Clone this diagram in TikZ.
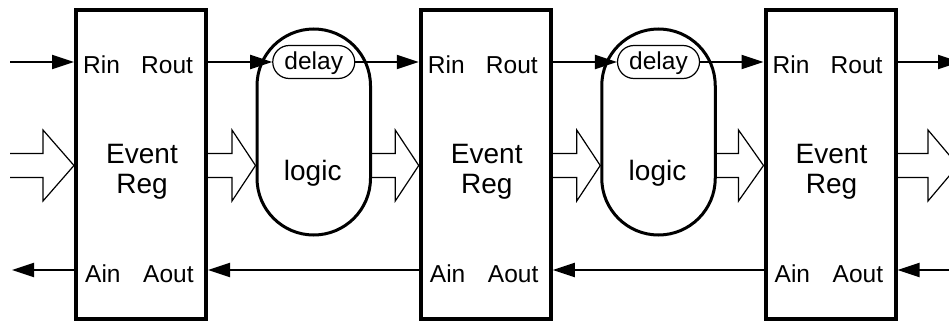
\documentclass[tikz,border=0pt]{standalone}
\usepackage{fontspec}
\setmainfont{Liberation Sans}
\usetikzlibrary{arrows.meta,calc}

\tikzset{
  reg/.style={draw, line width=4pt, minimum width=130pt, minimum height=308pt, inner sep=0pt},
  pill/.style={draw, line width=3pt, minimum width=113.5pt, minimum height=206pt,
    rounded corners=56.75pt, inner sep=0pt},
  delaybox/.style={draw, line width=1.2pt, fill=white, minimum width=82pt, minimum height=33pt,
    rounded corners=16.5pt, inner sep=0pt, text height=20pt, text depth=4pt,
    font=\fontsize{24.5}{29}\selectfont},
  port/.style={inner sep=0pt, font=\fontsize{24.5}{29}\selectfont},
  big/.style={inner sep=0pt, font=\fontsize{28}{30}\selectfont},
  sig/.style={line width=2pt, -{Triangle[length=22pt,width=14pt]}},
  fat/.style={line width=1.2pt, line join=miter},
}

% hollow bundle arrow: #1 start of the shaft, #2 tip, #3 head length
\newcommand\fatarrow[3]{%
  \draw[fat] let \p1=(#1), \p2=(#2) in
    (\x1,\y2+12pt) -- (\x2-#3,\y2+12pt) -- (\x2-#3,\y2+35.5pt) -- (\x2,\y2)
    -- (\x2-#3,\y2-35.5pt) -- (\x2-#3,\y2-12pt) -- (\x1,\y2-12pt);}

\begin{document}
\begin{tikzpicture}[x=1pt,y=-1pt]
\useasboundingbox (0,0) rectangle (949,321);
\clip (0,0) rectangle (949,321);

% event registers
\foreach \i/\cx in {1/141,2/485.75,3/830.5}{
  \node[reg] (reg\i) at (\cx,164.5) {};
  \node[port, anchor=base west] (rin\i)  at (\cx-58,74)  {Rin};
  \node[port, anchor=base west] (rout\i) at (\cx,74)     {Rout};
  \node[port, anchor=base west] (ain\i)  at (\cx-56,282) {Ain};
  \node[port, anchor=base west] (aout\i) at (\cx+2,282)  {Aout};
  \node[big, anchor=base] (ev\i) at (\cx+1,163) {Event};
  \node[big, anchor=base] (rg\i) at (\cx+1,193) {Reg};
}

% logic blocks with their delay elements
\foreach \i/\cx in {1/313.75,2/658.5}{
  \node[pill] (p\i) at (\cx,132) {};
  \node[delaybox] (d\i) at (\cx,62) {delay};
  \node[big, anchor=base] (lg\i) at (\cx-1,180) {logic};
}

% free ends at the picture border
\coordinate (reqin)   at (10,62);
\coordinate (reqout)  at (960,62);
\coordinate (ackin)   at (960,270);
\coordinate (ackout)  at (12,270);
\coordinate (datain)  at (10,165.5);
\coordinate (dataout) at (958,165.5);

% request chain
\draw[sig] (reqin) -- (reqin -| reg1.west);
\draw[sig] (reg1.east |- reqin) -- (d1.west);
\draw[sig] (d1.east) -- (reg2.west |- reqin);
\draw[sig] (reg2.east |- reqin) -- (d2.west);
\draw[sig] (d2.east) -- (reg3.west |- reqin);
\draw[sig] (reg3.east |- reqin) -- (reqout);

% acknowledge chain
\draw[sig] (ackin) -- (ackin -| reg3.east);
\draw[sig] (reg3.west |- ackin) -- (reg2.east |- ackin);
\draw[sig] (reg2.west |- ackin) -- (reg1.east |- ackin);
\draw[sig] (reg1.west |- ackin) -- (ackout);

% data bundles
\fatarrow{datain}{datain -| reg1.west}{31pt}
\fatarrow{reg1.east |- datain}{datain -| p1.west}{23.5pt}
\fatarrow{p1.east |- datain}{datain -| reg2.west}{23.5pt}
\fatarrow{reg2.east |- datain}{datain -| p2.west}{23.5pt}
\fatarrow{p2.east |- datain}{datain -| reg3.west}{25pt}
\fatarrow{reg3.east |- datain}{dataout}{30pt}
\end{tikzpicture}
\end{document}
